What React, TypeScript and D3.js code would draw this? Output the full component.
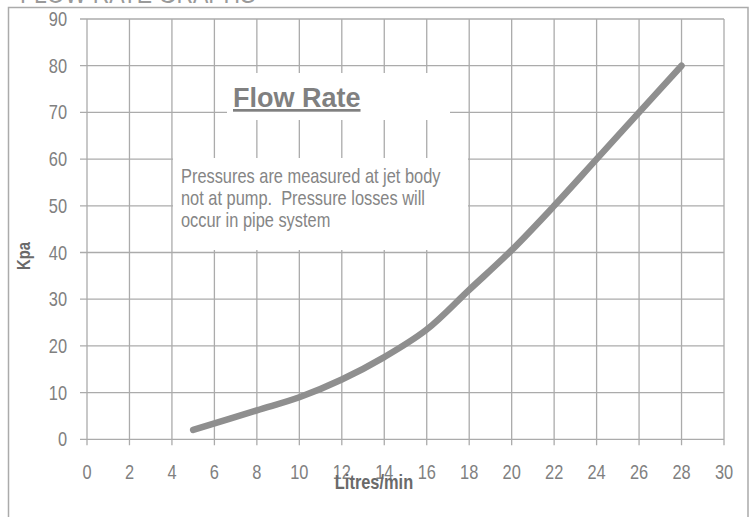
import { useEffect, useRef } from "react";
import * as d3 from "d3";

const flow = [5, 8, 10, 12, 14, 16, 18, 20, 22, 24, 26, 28];
const kpa = [2, 6.2, 9, 12.8, 17.6, 23.5, 32, 40.5, 50, 60, 70, 80];
const xTicks = [0, 2, 4, 6, 8, 10, 12, 14, 16, 18, 20, 22, 24, 26, 28, 30];
const yTicks = [0, 10, 20, 30, 40, 50, 60, 70, 80, 90];
const noteLines = [
  "Pressures are measured at jet body",
  "not at pump.  Pressure losses will",
  "occur in pipe system",
];

const W = 753;
const H = 517;
const SANS = "'Liberation Sans', Arial, sans-serif";
const GRID = "#ababab";
// Arial Narrow is not installed: squeeze Liberation Sans instead
const narrow = (px: number, py: number, rot = 0) =>
  `translate(${px},${py}) rotate(${rot}) scale(0.82,1)`;

export default function App() {
  const svgRef = useRef<SVGSVGElement>(null);

  useEffect(() => {
    if (!svgRef.current) return;
    const svg = d3.select(svgRef.current);
    svg.selectAll("*").remove();

    const x = d3.scaleLinear().domain([0, 30]).range([87, 724]);
    const y = d3.scaleLinear().domain([0, 90]).range([439.3, 19]);

    svg.append("rect").attr("width", W).attr("height", H).attr("fill", "#fff");

    // page title, cut off at the top
    svg.append("text")
      .attr("transform", narrow(20, 3))
      .attr("font-family", SANS)
      .attr("font-size", 28)
      .attr("fill", "#9a9a9a")
      .text("FLOW RATE GRAPHS");

    // outer frame
    svg.append("path")
      .attr("d", `M8.5,${H + 5}V7.5H748V${H + 5}`)
      .attr("fill", "none")
      .attr("stroke", GRID)
      .attr("stroke-width", 1.5);

    // grid
    const g = svg.append("g");
    g.selectAll("line.v")
      .data(xTicks)
      .join("line")
      .attr("class", "v")
      .attr("x1", (d) => x(d))
      .attr("x2", (d) => x(d))
      .attr("y1", y(90))
      .attr("y2", y(0) + 6)
      .attr("stroke", GRID)
      .attr("stroke-width", 1.3);
    g.selectAll("line.h")
      .data(yTicks)
      .join("line")
      .attr("class", "h")
      .attr("x1", x(0) - 7)
      .attr("x2", x(30))
      .attr("y1", (d) => y(d))
      .attr("y2", (d) => y(d))
      .attr("stroke", GRID)
      .attr("stroke-width", 1.3);

    // tick labels
    svg.append("g")
      .selectAll("text")
      .data(xTicks)
      .join("text")
      .attr("transform", (d) => narrow(x(d), 479))
      .attr("text-anchor", "middle")
      .attr("font-family", SANS)
      .attr("font-size", 20)
      .attr("fill", "#808080")
      .text((d) => d);
    svg.append("g")
      .selectAll("text")
      .data(yTicks)
      .join("text")
      .attr("transform", (d) => narrow(67, y(d) + 7))
      .attr("text-anchor", "end")
      .attr("font-family", SANS)
      .attr("font-size", 20)
      .attr("fill", "#808080")
      .text((d) => d);

    // axis titles
    svg.append("text")
      .attr("transform", narrow(374, 489))
      .attr("text-anchor", "middle")
      .attr("font-family", SANS)
      .attr("font-weight", "bold")
      .attr("font-size", 20)
      .attr("fill", "#6a6a6a")
      .text("Litres/min");
    svg.append("text")
      .attr("transform", `translate(30,256) rotate(-90) scale(0.82,1)`)
      .attr("text-anchor", "middle")
      .attr("font-family", SANS)
      .attr("font-weight", "bold")
      .attr("font-size", 18)
      .attr("fill", "#6a6a6a")
      .text("Kpa");

    // "Flow Rate" label box
    svg.append("rect")
      .attr("x", 227)
      .attr("y", 73)
      .attr("width", 223)
      .attr("height", 47)
      .attr("fill", "#fff");
    svg.append("text")
      .attr("x", 233)
      .attr("y", 107)
      .attr("font-family", SANS)
      .attr("font-weight", "bold")
      .attr("font-size", 27)
      .attr("fill", "#808080")
      .attr("text-decoration", "underline")
      .text("Flow Rate");

    // note box
    svg.append("rect")
      .attr("x", 173)
      .attr("y", 158)
      .attr("width", 295)
      .attr("height", 92)
      .attr("fill", "#fff");
    svg.append("g")
      .selectAll("text")
      .data(noteLines)
      .join("text")
      .attr("transform", (_, i) => narrow(181, 183 + i * 22))
      .attr("font-family", SANS)
      .attr("font-size", 20)
      .attr("fill", "#858585")
      .style("white-space", "pre")
      .text((d) => d);

    // curve
    const line = d3
      .line<number>()
      .x((_, i) => x(flow[i]))
      .y((d) => y(d))
      .curve(d3.curveCatmullRom.alpha(0.5));
    svg.append("path")
      .attr("d", line(kpa))
      .attr("fill", "none")
      .attr("stroke", "#8f8f8f")
      .attr("stroke-width", 6.5)
      .attr("stroke-linecap", "round")
      .attr("stroke-linejoin", "round");
  }, []);

  return (
    <svg
      ref={svgRef}
      width={W}
      height={H}
      style={{ position: "fixed", left: 0, top: 0, display: "block" }}
    />
  );
}
